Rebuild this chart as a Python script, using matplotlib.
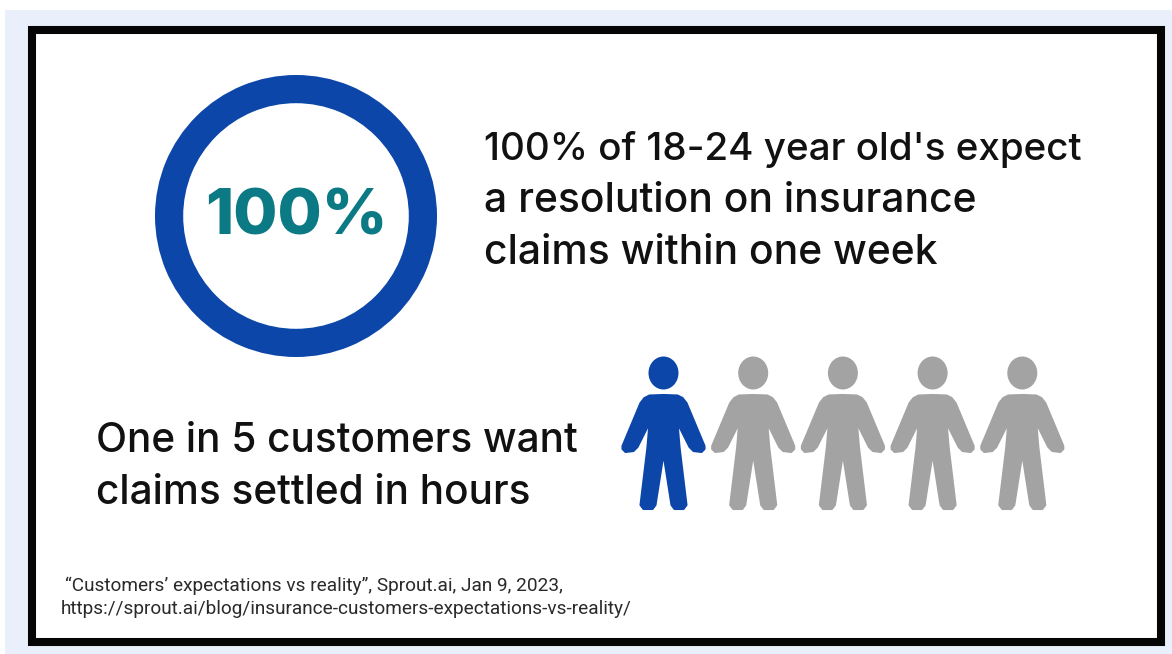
import matplotlib
matplotlib.use("Agg")
import matplotlib.pyplot as plt
from matplotlib.patches import Rectangle, Ellipse, PathPatch
from matplotlib.path import Path

ring_label = "100%"
ring_values = [100, 0]
people_total = 5
people_highlighted = 1
headline_lines = ["100% of 18-24 year old's expect",
                  "a resolution on insurance",
                  "claims within one week"]
people_lines = ["One in 5 customers want", "claims settled in hours"]
source_lines = ["\u201cCustomers\u2019 expectations vs reality\u201d, Sprout.ai, Jan 9, 2023,",
                "https://sprout.ai/blog/insurance-customers-expectations-vs-reality/"]

W, H = 1172, 654
BLUE = "#0B46A8"
GREY = "#A3A3A3"
TEAL = "#0B7A85"
INK = "#111111"

plt.rcParams['font.family'] = ['Inter', 'DejaVu Sans']

fig = plt.figure(figsize=(W / 100, H / 100), dpi=100, facecolor="white")
ax = fig.add_axes([0, 0, 1, 1])
ax.set(xlim=(0, W), ylim=(H, 0))
ax.axis("off")

# page and frame
ax.add_patch(Rectangle((5, 10), W - 5, H - 10, fc="#E9F0FC", ec="none"))
ax.add_patch(Rectangle((32, 29.5), 1128.5, 612, fc="white", ec="#050505", lw=5.8))

# ring
cx, cy, r = 296, 216, 141
ring_ax = fig.add_axes([(cx - r) / W, 1 - (cy + r) / H, 2 * r / W, 2 * r / H])
ring_ax.pie(ring_values, colors=[BLUE, "white"], radius=1, startangle=90,
            wedgeprops=dict(width=0.2, linewidth=0))
ring_ax.set(xlim=(-1, 1), ylim=(-1, 1))
ax.text(cx, 218, ring_label, color=TEAL, fontsize=46, fontweight="heavy", ha="center", va="center")

# the digits run wide in this font, so the first line is set a little smaller
for i, line in enumerate(headline_lines):
    ax.text(484, 149 + i * 52, line, color=INK, fontsize=27.8 if i == 0 else 29.4,
            fontweight="medium", ha="left", va="center")
for i, line in enumerate(people_lines):
    ax.text(96, 441.5 + i * 52, line, color=INK, fontsize=29.2, fontweight="medium", ha="left", va="center")
for i, line in enumerate(source_lines):
    ax.text(65 - i * 4, 586 + i * 23, line, color="#2A2A2A", fontsize=13.65, family="Roboto", ha="left", va="center")

# half a person outline, offset from the centre line
half = [(0, 395), (-14, 395.5), (-19, 398), (-23, 403), (-41, 446), (-41, 449),
        (-38, 452), (-30, 451), (-26, 447), (-14, 423), (-16, 447), (-23, 505),
        (-20, 509), (-11, 509), (-8, 505), (0, 454)]


def person_path(x0):
    pts = [(x0 + dx, y) for dx, y in half]
    pts += [(x0 - dx, y) for dx, y in reversed(half[:-1])]
    codes = [Path.MOVETO] + [Path.LINETO] * (len(pts) - 2) + [Path.CLOSEPOLY]
    return Path(pts, codes)


for n in range(people_total):
    x0 = 663.5 + n * 89.7
    color = BLUE if n < people_highlighted else GREY
    ax.add_patch(Ellipse((x0, 373), 30, 33, fc=color, ec="none"))
    ax.add_patch(PathPatch(person_path(x0), fc=color, ec=color, lw=1.5, joinstyle="round"))

fig.savefig("out.png", dpi=100)
